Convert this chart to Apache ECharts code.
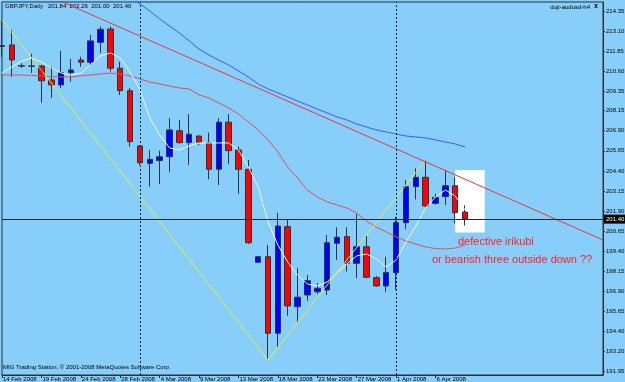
<!DOCTYPE html>
<html>
<head>
<meta charset="utf-8">
<script src="https://cdn.jsdelivr.net/npm/echarts@6/dist/echarts.min.js"></script>
<style>
html, body { margin: 0; padding: 0; background: #87cefa; }
#chart { width: 625px; height: 382px; }
</style>
</head>
<body>
<div id="chart"></div>
<script>
// GBPJPY daily bars, 14 Feb - 9 Apr 2008 (Sunday bars included)
var dates = [
    '14 Feb 2008', '15 Feb 2008', '17 Feb 2008', '18 Feb 2008', '19 Feb 2008', '20 Feb 2008',
    '21 Feb 2008', '22 Feb 2008', '24 Feb 2008', '25 Feb 2008', '26 Feb 2008', '27 Feb 2008',
    '28 Feb 2008', '29 Feb 2008', '2 Mar 2008', '3 Mar 2008', '4 Mar 2008', '5 Mar 2008',
    '6 Mar 2008', '7 Mar 2008', '9 Mar 2008', '10 Mar 2008', '11 Mar 2008', '12 Mar 2008',
    '13 Mar 2008', '14 Mar 2008', '16 Mar 2008', '17 Mar 2008', '18 Mar 2008', '19 Mar 2008',
    '20 Mar 2008', '21 Mar 2008', '23 Mar 2008', '24 Mar 2008', '25 Mar 2008', '26 Mar 2008',
    '27 Mar 2008', '28 Mar 2008', '30 Mar 2008', '31 Mar 2008', '1 Apr 2008', '2 Apr 2008',
    '3 Apr 2008', '4 Apr 2008', '6 Apr 2008', '7 Apr 2008', '8 Apr 2008', '9 Apr 2008'
];
// empty slots on the right of the chart
var futureDates = [
    '10 Apr 2008', '11 Apr 2008', '13 Apr 2008', '14 Apr 2008', '15 Apr 2008', '16 Apr 2008',
    '17 Apr 2008', '18 Apr 2008', '20 Apr 2008', '21 Apr 2008', '22 Apr 2008', '23 Apr 2008',
    '24 Apr 2008', '25 Apr 2008'
];

var open = [212.20, 212.24, 210.95, 210.93, 210.93, 210.06, 209.75, 210.51, 211.30, 211.16, 212.40, 213.23,
    210.79, 209.39, 205.95, 204.87, 205.04, 205.28, 206.90, 206.16, 206.57, 206.16, 204.50, 207.43,
    205.70, 204.50, 198.71, 199.06, 194.30, 200.93, 195.95, 196.68, 196.88, 196.99, 199.90, 200.31,
    198.65, 199.68, 197.76, 197.24, 198.07, 201.18, 203.42, 204.00, 202.38, 202.80, 203.48, 201.84];
var high = [213.79, 213.17, 211.10, 211.68, 211.00, 210.88, 211.88, 211.37, 211.51, 212.86, 213.38, 213.38,
    211.20, 209.56, 206.00, 205.70, 205.66, 207.68, 207.57, 207.94, 206.60, 206.78, 207.68, 207.94,
    205.91, 205.08, 199.10, 199.79, 201.80, 201.35, 198.34, 197.92, 197.41, 200.41, 200.89, 200.89,
    201.72, 200.35, 197.86, 199.06, 201.55, 203.83, 204.56, 205.08, 202.96, 204.46, 204.00, 202.26];
var low = [211.50, 210.25, 210.80, 210.49, 208.65, 208.94, 209.56, 209.95, 210.88, 210.98, 211.74, 210.58,
    209.12, 205.91, 204.77, 203.42, 203.59, 204.35, 206.10, 204.77, 206.00, 203.88, 203.52, 204.83,
    202.96, 199.85, 198.67, 192.63, 193.46, 195.39, 195.02, 196.31, 196.74, 196.68, 198.86, 198.13,
    197.72, 197.72, 197.20, 196.88, 196.99, 200.77, 202.63, 202.14, 202.30, 202.28, 201.14, 201.00];
var close = [212.15, 211.30, 210.92, 210.91, 210.01, 209.75, 210.51, 210.68, 211.16, 212.49, 213.21, 210.79,
    209.39, 206.22, 204.91, 205.12, 205.28, 206.95, 206.16, 206.68, 206.18, 204.50, 207.43, 205.66,
    204.50, 199.93, 199.06, 194.30, 200.97, 196.00, 196.54, 197.57, 197.10, 199.93, 200.27, 198.65,
    199.68, 197.78, 197.24, 198.07, 201.18, 203.42, 204.00, 202.22, 202.75, 203.48, 201.80, 201.40];

// moving averages
var maFast = [210.49, 210.87, 211.24, 211.43, 211.18, 210.81, 210.49, 210.37, 210.49, 210.99, 211.55, 211.74,
    211.43, 210.56, 209.44, 207.69, 206.64, 205.83, 205.70, 205.95, 206.14, 206.14, 206.14, 206.14,
    205.70, 204.64, 203.40, 201.22, 199.79, 198.73, 197.92, 197.36, 197.24, 197.49, 198.05, 198.61,
    199.11, 199.23, 198.92, 198.42, 198.86, 199.98, 200.97, 202.09, 202.78, 203.21, 202.84, 201.97];
var maMid = [210.37, 210.37, 210.37, 210.34, 210.31, 210.25, 210.25, 210.25, 210.31, 210.37, 210.43, 210.49,
    210.43, 210.31, 210.12, 209.93, 209.81, 209.68, 209.56, 209.50, 209.13, 208.94, 208.63, 208.32,
    207.94, 207.45, 206.95, 206.33, 205.58, 204.64, 203.96, 203.21, 202.78, 202.47, 202.28, 202.09,
    201.78, 201.28, 200.91, 200.60, 200.29, 200.04, 199.85, 199.67, 199.57, 199.54, 199.60, 199.79];
var maSlow = [null, null, null, null, null, null, null, null, null, null, 216.47, 216.03,
    215.60, 215.22, 214.79, 214.35, 213.86, 213.42, 212.98, 212.49, 211.99, 211.61, 211.30, 210.99,
    210.62, 210.25, 209.81, 209.50, 209.25, 209.00, 208.75, 208.50, 208.25, 208.01, 207.76, 207.57,
    207.32, 207.13, 206.95, 206.82, 206.70, 206.57, 206.51, 206.45, 206.33, 206.20, 206.08, 205.89];

// drawn objects: zigzag, trend line, box
var zigzag = [[0, 213.79], [27, 192.63], [43, 205.08]];
var trendLine = [[5, 215.22], [61, 200.10]];
var boxX = [46, 49];
var boxY = [204.46, 200.56];
var separators = [14, 40];
var bid = 201.40;

var priceTicks = [191.95, 193.20, 194.40, 195.65, 196.90, 198.15, 199.40, 200.65, 201.90, 203.15,
    204.40, 205.65, 206.90, 208.15, 209.35, 210.60, 211.85, 213.10, 214.35];

var categories = dates.concat(futureDates);
var candles = open.map(function (o, i) { return [o, close[i], low[i], high[i]]; });
var showDate = function (i) { return i < dates.length && i % 4 === 0; };

var myChart = echarts.init(document.getElementById('chart'), null, { renderer: 'canvas' });
var font = 'Liberation Sans';

var option = {
    backgroundColor: '#87cefa',
    animation: false,
    textStyle: { fontFamily: font },
    grid: {
        left: 2, right: 22, top: 2, bottom: 7,
        show: true,
        borderColor: '#25333f',
        borderWidth: 1,
        containLabel: false,
        outerBoundsMode: 'none'
    },
    xAxis: {
        type: 'category',
        data: categories,
        boundaryGap: false,
        axisLine: { lineStyle: { color: '#25333f', width: 1 } },
        axisTick: { interval: showDate, length: 3, lineStyle: { color: '#25333f' } },
        axisLabel: {
            interval: showDate,
            align: 'left',
            margin: 1,
            fontSize: 6,
            color: '#000',
            padding: [0, 0, 0, 1]
        },
        splitLine: { show: false }
    },
    yAxis: {
        type: 'value',
        position: 'right',
        min: 191.70,
        max: 214.91,
        scale: true,
        axisLine: { show: true, lineStyle: { color: '#25333f', width: 1 } },
        axisTick: { show: true, length: 2, customValues: priceTicks, lineStyle: { color: '#25333f' } },
        axisLabel: {
            customValues: priceTicks,
            formatter: function (v) { return v.toFixed(2); },
            fontSize: 6,
            margin: 3,
            color: '#000'
        },
        splitLine: { show: false }
    },
    graphic: [
        {
            type: 'text', left: 5, top: 3,
            style: { text: 'GBPJPY,Daily   201.84  202.26  201.00  201.40', fill: '#000', font: '6px "Liberation Sans"' }
        },
        {
            type: 'text', right: 35, top: 4,
            style: { text: 'doji-audusd-h4', fill: '#000', font: '6px "Liberation Sans"' }
        },
        {
            type: 'text', right: 27, top: 3,
            style: { text: 'x', fill: '#000', font: 'bold 7px "Liberation Sans"' }
        },
        {
            type: 'text', left: 3, top: 364,
            style: { text: 'MIG Trading Station, \u00a9 2001-2008 MetaQuotes Software Corp.', fill: '#000', font: '6px "Liberation Sans"' }
        },
        {
            type: 'text', left: 458, top: 236,
            style: { text: 'defective irikubi', fill: '#ff2020', font: '11px "Liberation Sans"' }
        },
        {
            type: 'text', left: 432, top: 254,
            style: { text: 'or bearish three outside down ??', fill: '#ff2020', font: '11px "Liberation Sans"' }
        }
    ],
    series: [
        {
            // white rectangle object
            name: 'box',
            type: 'line',
            z: 1,
            data: [],
            markArea: {
                silent: true,
                itemStyle: { color: '#ffffff', opacity: 1 },
                data: [[{ xAxis: boxX[0], yAxis: boxY[0] }, { xAxis: boxX[1], yAxis: boxY[1] }]]
            }
        },
        {
            name: 'GBPJPY',
            type: 'candlestick',
            z: 2,
            barWidth: 6,
            data: candles,
            itemStyle: {
                color: '#0000ff',
                color0: '#ff0000',
                borderColor: '#2a3540',
                borderColor0: '#2a3540',
                borderWidth: 1
            },
            markLine: {
                silent: true,
                symbol: 'none',
                animation: false,
                label: { show: false },
                data: [
                    {
                        yAxis: bid,
                        lineStyle: { color: '#1e2a34', width: 1, type: 'solid' },
                        label: {
                            show: true,
                            position: 'end',
                            formatter: bid.toFixed(2),
                            color: '#fff',
                            backgroundColor: '#000',
                            fontSize: 6,
                            padding: [2, 2, 1, 2],
                            distance: 1
                        }
                    },
                    { xAxis: separators[0], lineStyle: { color: '#1e2a34', width: 1, type: [2, 2] } },
                    { xAxis: separators[1], lineStyle: { color: '#1e2a34', width: 1, type: [2, 2] } }
                ]
            }
        },
        {
            name: 'MA slow',
            type: 'line',
            z: 3,
            data: maSlow,
            showSymbol: false,
            lineStyle: { color: '#3c5cf0', width: 1 }
        },
        {
            name: 'MA mid',
            type: 'line',
            z: 3,
            data: maMid,
            showSymbol: false,
            lineStyle: { color: '#e0505a', width: 1 }
        },
        {
            name: 'MA fast',
            type: 'line',
            z: 3,
            data: maFast,
            showSymbol: false,
            lineStyle: { color: '#f4f8ff', width: 1 }
        },
        {
            name: 'zigzag',
            type: 'line',
            z: 4,
            data: zigzag,
            showSymbol: false,
            lineStyle: { color: '#e8ee3a', width: 1 }
        },
        {
            name: 'trend',
            type: 'line',
            z: 4,
            data: trendLine,
            showSymbol: false,
            clip: true,
            lineStyle: { color: '#e4383c', width: 1 }
        }
    ]
};
myChart.setOption(option);
</script>
</body>
</html>
